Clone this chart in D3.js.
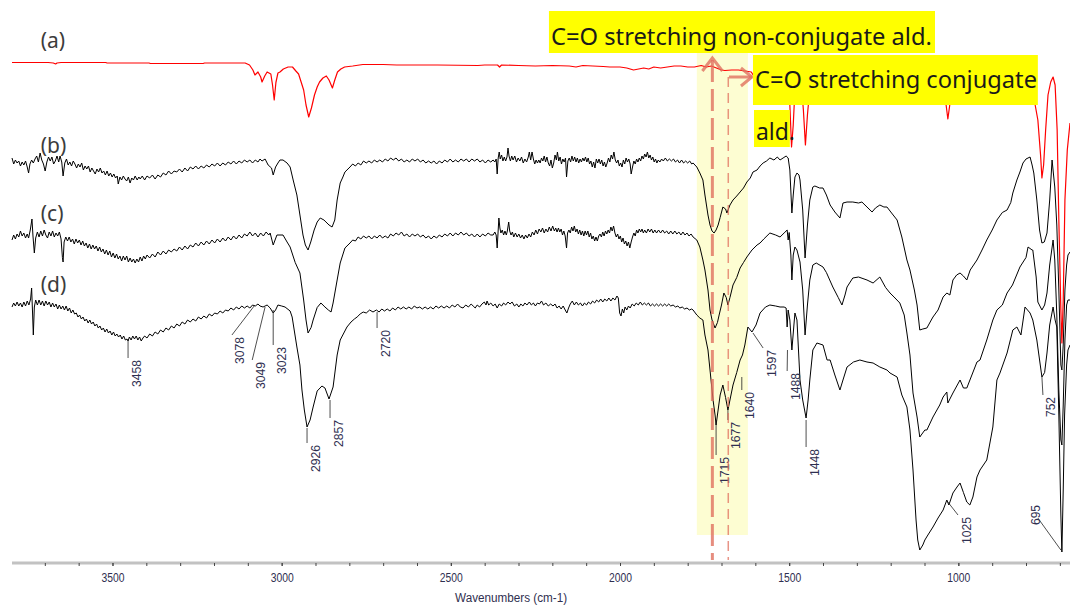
<!DOCTYPE html>
<html>
<head>
<meta charset="utf-8">
<script src="https://cdn.jsdelivr.net/npm/d3@7"></script>
<style>
  html, body { margin: 0; padding: 0; background: #fff; }
  svg { display: block; font-family: "Liberation Sans", Arial, sans-serif; }
</style>
</head>
<body>
<svg id="chart" width="1070" height="606"></svg>
<script>
// FTIR spectra, [wavenumber cm-1, transmittance (stacked, arbitrary units)]
var specA = [[3797,100.5],[3690,100.5],[3675,100.4],[3668,100.2],[3664,100.4],[3652,100.5],[3520,100.5],[3516,100.4],[3392,100.4],[3388,100.3],[3232,100.3],[3228,100.4],[3108,100.4],[3095,100],[3085,99],[3079,98],[3070,98.6],[3062,97.6],[3058,96.6],[3050,97.8],[3043,98.6],[3032,98.2],[3027,96],[3022,93],[3017,96.5],[3011,98.4],[3005,98.6],[2995,99.2],[2981,99.6],[2968,99.6],[2958,98.8],[2950,98.2],[2942,96.5],[2935,95],[2928,92],[2920,89.6],[2912,91.4],[2903,94],[2895,95.6],[2888,96.6],[2878,97.4],[2868,97.8],[2860,97],[2850,95.4],[2843,97],[2835,98.6],[2825,99.2],[2814,99.6],[2790,99.8],[2760,100.1],[2700,100.1],[2660,100],[2540,100],[2420,99.9],[2400,100],[2362,100],[2356,99.6],[2350,100],[2300,99.9],[2250,99.8],[2200,99.9],[2150,99.8],[2130,99.6],[2110,99.9],[2080,99.8],[2050,99.7],[2030,99.6],[2000,99.6],[1980,99.4],[1960,99],[1945,99.2],[1930,99.4],[1915,99.2],[1900,99.6],[1880,99.4],[1860,99.6],[1840,99.8],[1820,99.8],[1800,99.6],[1780,99.6],[1760,99.9],[1745,99.6],[1730,99.8],[1715,99.4],[1700,99],[1690,98.9],[1670,99],[1650,99],[1630,98.8],[1612,98.6],[1601,97.4],[1590,98.6],[1570,99],[1540,99],[1520,98.6],[1505,97],[1498,92],[1493,83.6],[1488,88],[1483,95],[1475,98.6],[1465,97],[1458,91],[1452,84],[1446,90],[1438,96],[1430,98.6],[1400,99],[1370,98.6],[1300,99],[1200,99],[1180,98.4],[1155,98.4],[1100,99],[1070,98.6],[1045,96],[1038,93],[1031,89.2],[1025,92.2],[1018,95],[1010,98],[960,99],[920,98.6],[880,97],[850,99],[800,98.8],[785,96],[774,92.4],[765,89],[757,82],[753,77.4],[748,80],[742,87],[735,94],[727,96.6],[720,97.6],[714,96],[708,87],[703,69],[697,51],[694,44.4],[690,53],[685,73],[678,83],[670,88.4]];

var specB = [[3797,81.4],[3792,80.2],[3787,81],[3782,80.4],[3777,80.8],[3772,79.8],[3767,80.6],[3762,80],[3757,80.8],[3752,79.6],[3748,78.4],[3744,80.2],[3739,81],[3734,80.4],[3729,81.2],[3724,81.8],[3719,80.6],[3714,82.4],[3709,81],[3704,80.2],[3699,78.8],[3694,80.6],[3689,81.6],[3684,80.8],[3679,81.6],[3674,80.2],[3669,80.8],[3664,81.8],[3659,80.6],[3655,81.8],[3650,80.6],[3646,77.8],[3641,80.4],[3636,81.2],[3631,80],[3626,80.6],[3621,79.8],[3616,80.8],[3611,80.2],[3606,79.4],[3601,80.2],[3596,79.6],[3591,80.4],[3586,79],[3581,79.8],[3576,79.2],[3571,79.8],[3566,78.6],[3561,79.4],[3556,78.8],[3551,78.2],[3546,79.2],[3541,78.6],[3536,79.4],[3531,78.4],[3526,78.8],[3521,78],[3516,78.8],[3511,77.8],[3506,78.4],[3501,77.6],[3496,78.2],[3491,77.4],[3486,77.8],[3483,76.2],[3478,77.6],[3473,77],[3468,77.8],[3463,77.2],[3458,76.8],[3453,77.6],[3448,76.4],[3443,77.4],[3438,77],[3433,77.8],[3427,77],[3422,77.6],[3418,77.2],[3412,77.8],[3405,77],[3398,77.8],[3390,77.4],[3382,78],[3374,77.2],[3366,78],[3358,77.6],[3350,78.4],[3342,78],[3334,78.8],[3326,78.2],[3318,78.8],[3310,78.6],[3302,79.2],[3294,78.6],[3286,79.4],[3278,78.8],[3270,79.6],[3262,79.2],[3254,79.8],[3246,79.2],[3238,79.8],[3230,79.4],[3222,80],[3214,79.6],[3206,80.2],[3198,79.8],[3190,80.4],[3182,79.8],[3174,80.4],[3166,80],[3158,80.6],[3150,80.2],[3142,80.8],[3134,80.2],[3126,80.8],[3118,80.4],[3110,81],[3102,80.6],[3094,81],[3086,80.4],[3078,81],[3070,80.6],[3064,81.2],[3058,80.8],[3049,81.2],[3040,80],[3030,79.4],[3025,78],[3018,79.6],[3011,80.4],[3005,81],[2996,81],[2984,80.4],[2975,79.6],[2966,77],[2955,74],[2946,70],[2937,66],[2930,64],[2922,63],[2914,64.6],[2904,67],[2895,68.6],[2886,69.4],[2875,69],[2869,68.6],[2860,68],[2851,67.6],[2843,69],[2836,73],[2827,76.4],[2819,77.6],[2813,78.6],[2798,79.6],[2790,80.2],[2782,79.8],[2774,80.4],[2766,80],[2758,80.8],[2750,80.4],[2742,80.8],[2734,80.4],[2726,81],[2718,80.6],[2710,81],[2702,80.6],[2694,81.2],[2686,80.8],[2678,81.4],[2670,81],[2662,81.4],[2654,80.8],[2646,81.2],[2638,80.6],[2630,81],[2622,80.6],[2614,81.2],[2606,80.8],[2598,81.2],[2590,80.6],[2582,81],[2574,80.4],[2566,80.8],[2558,80.4],[2550,80.8],[2542,80.2],[2534,80.8],[2526,80.4],[2518,81],[2510,80.6],[2502,81.2],[2494,80.6],[2486,81],[2478,80.6],[2470,81.2],[2462,80.8],[2454,81.2],[2446,80.6],[2438,81.2],[2430,80.8],[2422,81.2],[2414,80.6],[2406,81],[2398,80.4],[2390,81],[2382,80.6],[2375,81],[2370,80.6],[2366,81.2],[2363,78.2],[2360,81.4],[2357,82.6],[2354,81.2],[2350,82],[2346,80.8],[2342,81.6],[2338,80.8],[2334,81.6],[2331,83.4],[2328,81.8],[2324,80.8],[2320,81.8],[2316,81],[2311,81.8],[2306,80.6],[2301,81.4],[2296,80.8],[2291,81.6],[2286,80.4],[2281,81.2],[2276,80.6],[2271,81.6],[2268,82.6],[2264,81],[2260,82.6],[2256,81.2],[2252,80.2],[2248,81],[2244,80.4],[2240,81],[2236,80.4],[2232,81.4],[2228,80.8],[2224,81.8],[2220,80.6],[2216,81.6],[2212,80.4],[2208,79.8],[2204,81],[2200,79.4],[2196,80.4],[2192,82],[2188,81],[2185,82.6],[2181,80.8],[2177,81.6],[2173,80.2],[2169,81.2],[2165,80.6],[2161,81.4],[2158,77.6],[2154,80.8],[2150,81.4],[2146,80.6],[2142,81.8],[2138,80.8],[2134,81.6],[2130,80.6],[2126,81.4],[2122,80.4],[2118,81.2],[2114,80.6],[2110,81.4],[2106,80.8],[2102,81.6],[2098,80.6],[2094,81.4],[2090,80.2],[2086,80.8],[2082,79.6],[2078,80.6],[2074,79.4],[2070,81.2],[2066,80.4],[2062,81.2],[2058,80.2],[2054,81],[2050,79.8],[2046,80.6],[2042,79.6],[2038,80.4],[2034,81.4],[2030,80.6],[2026,82],[2022,81.2],[2018,82.6],[2014,81],[2010,80.4],[2006,81],[2002,79.8],[1998,80.4],[1994,79.6],[1990,81],[1986,80.2],[1982,81.4],[1978,80.6],[1974,81.2],[1970,80.2],[1967,78.2],[1963,79.6],[1959,80.8],[1955,80.2],[1951,81.2],[1947,80.6],[1943,81.4],[1939,80.8],[1935,81.8],[1931,81.2],[1927,82.2],[1923,81.6],[1919,82.6],[1915,81.4],[1911,82],[1907,81],[1903,81.6],[1899,80.6],[1895,81.2],[1891,80.4],[1887,81],[1882,80.6],[1877,81.2],[1872,80.8],[1866,81.4],[1860,80.8],[1854,81.2],[1848,80.8],[1842,81.2],[1836,80.6],[1830,81],[1824,80.4],[1818,81],[1812,80.4],[1806,80.8],[1800,80.4],[1794,80.8],[1788,80.2],[1784,80.4],[1773,79.6],[1764,78.4],[1755,77],[1749,74],[1740,70],[1734,68],[1728,66.8],[1722,66.4],[1716,67],[1710,68],[1704,69.5],[1696,71.6],[1688,71.2],[1684,70.4],[1675,72],[1666,73],[1655,73.8],[1645,74.6],[1635,75.4],[1625,76.6],[1615,77.4],[1607,78.6],[1595,79],[1586,79.8],[1577,80.4],[1567,80.8],[1557,81.4],[1545,81],[1535,81.6],[1527,81],[1518,81.4],[1509,81.8],[1503,81.4],[1498,79],[1492,70.4],[1488,74],[1483,77.6],[1477,78.4],[1471,78],[1468,77],[1460,71],[1453,61.4],[1446,68],[1439,73],[1430,75.6],[1424,75.8],[1410,75.4],[1400,75.4],[1390,74],[1379,72],[1365,70.6],[1350,69.4],[1341,72.4],[1329,72.6],[1312,72.6],[1295,72.4],[1285,72.6],[1270,71.6],[1255,70.6],[1245,71.4],[1232,72],[1220,71.6],[1211,71.6],[1195,70.2],[1181,69],[1167,65.6],[1152,61],[1143,59],[1130,55],[1122,52],[1114,47],[1105,47.2],[1093,47.4],[1080,49],[1075,49.6],[1060,51],[1045,53.6],[1034,54.4],[1025,54],[1016,57],[1005,58],[995,58.4],[985,57.8],[975,57],[965,59],[945,61],[930,63],[916,65],[900,67],[886,69],[870,70.5],[856,71],[845,72.5],[839,74.4],[827,77],[818,78.6],[809,80.4],[800,81.2],[788,81.6],[782,80],[777,78.4],[768,73],[760,67],[753,64.4],[746,64.6],[738,66.4],[730,73],[723,81],[718,77.6],[715,75.6],[709,68],[703,55],[697,40],[694,39],[690,44],[685,55],[680,60],[676,62],[670,62.6]];

var specC = [[3797,65],[3792,66],[3787,65.2],[3782,66.2],[3777,65.6],[3772,66.8],[3767,65.8],[3762,66.4],[3757,65.4],[3752,66.2],[3748,65.4],[3743,67],[3738,69.2],[3735,65.8],[3731,62.4],[3727,65.4],[3722,66.6],[3717,65.6],[3712,66.8],[3707,65.8],[3702,67],[3697,66],[3692,65.4],[3687,66.6],[3682,65.8],[3677,66.8],[3672,65.6],[3667,66.4],[3662,65.8],[3657,66.6],[3652,65.2],[3648,61.5],[3646,60.6],[3643,64.6],[3638,65.6],[3633,64.8],[3628,65.6],[3623,64.6],[3618,65.2],[3613,64.2],[3608,65.2],[3603,64.4],[3598,65],[3593,64],[3588,64.8],[3583,63.8],[3578,64.4],[3573,63.4],[3568,64.2],[3563,63.2],[3558,64],[3553,63.2],[3548,63.8],[3543,62.8],[3538,63.6],[3533,62.6],[3528,63.2],[3523,62.2],[3518,63],[3513,62],[3508,62.8],[3503,61.6],[3498,62.4],[3493,61.4],[3488,62.2],[3483,61.2],[3478,61.8],[3473,60.8],[3468,61.8],[3463,61],[3458,61.8],[3453,60.6],[3448,61.4],[3443,60.6],[3438,61.2],[3433,60.4],[3428,61.2],[3423,60.6],[3418,61.6],[3413,60.8],[3408,61.8],[3403,61.2],[3398,62],[3390,61.4],[3382,62.2],[3374,61.6],[3366,62.6],[3358,62],[3350,62.8],[3342,62.2],[3334,63],[3326,62.6],[3318,63.2],[3310,62.8],[3302,63.6],[3294,63],[3286,63.8],[3278,63.2],[3270,64],[3262,63.6],[3254,64.4],[3246,63.8],[3238,64.6],[3230,64],[3222,64.8],[3214,64.2],[3206,65],[3198,64.4],[3190,65.2],[3182,64.6],[3174,65.4],[3166,64.8],[3158,65.6],[3150,65],[3142,65.8],[3134,65.2],[3126,66],[3118,65.4],[3110,66.2],[3102,65.8],[3094,66.6],[3086,65.8],[3078,66.4],[3070,65.6],[3062,66.4],[3054,65.8],[3046,66.6],[3038,66],[3034,66.4],[3025,64],[3014,66],[2996,66],[2984,64.6],[2975,63.6],[2960,60.5],[2946,58.4],[2935,53],[2928,49],[2922,46.4],[2913,47.5],[2907,49],[2895,51.5],[2884,52.4],[2872,51.6],[2862,51],[2854,50.6],[2848,52.4],[2836,57],[2827,60.4],[2813,63.4],[2798,64.4],[2790,65],[2782,64.8],[2774,65.6],[2766,65.2],[2758,65.8],[2750,65.4],[2742,65.8],[2734,65.2],[2726,65.8],[2718,65.4],[2710,66],[2702,65.4],[2694,65.8],[2686,65.4],[2678,66.2],[2670,65.8],[2662,66.4],[2654,66],[2646,66.6],[2638,65.8],[2630,66.2],[2622,65.6],[2614,66.2],[2606,65.8],[2598,66.2],[2590,65.6],[2582,66],[2574,65.4],[2566,65.8],[2558,65.2],[2550,65.8],[2542,65.4],[2534,66],[2526,65.6],[2518,66.2],[2510,65.8],[2502,66.4],[2494,65.8],[2486,66.4],[2478,66],[2470,66.6],[2462,66],[2454,66.4],[2446,65.8],[2438,66.2],[2430,65.6],[2422,66.2],[2414,65.6],[2406,66.2],[2398,65.8],[2390,66.4],[2382,66],[2375,66],[2370,66.6],[2366,66],[2363,63.4],[2360,67],[2358,69.4],[2355,67.4],[2352,66.4],[2348,67],[2344,66],[2340,66.8],[2336,66],[2333,66.8],[2329,68.6],[2326,66.8],[2322,66],[2318,66.6],[2314,65.6],[2309,66.4],[2304,65.6],[2299,66.2],[2294,65.4],[2289,66],[2284,65.2],[2279,66],[2274,65.4],[2269,66.2],[2264,65.6],[2259,66.6],[2254,66],[2249,67],[2244,66.2],[2239,67.2],[2234,66.6],[2229,67.4],[2224,66.4],[2219,67.2],[2214,66.6],[2209,67.6],[2204,66.8],[2199,67.8],[2194,66.8],[2190,67.4],[2186,66.6],[2182,67.4],[2178,66.6],[2174,67.2],[2170,66],[2166,66.8],[2162,65.8],[2158,63.4],[2155,66.4],[2151,67],[2147,66.4],[2143,67.6],[2139,66.8],[2135,67.8],[2131,66.6],[2127,67.2],[2123,66.2],[2119,67],[2115,66],[2111,66.8],[2107,65.8],[2103,66.8],[2099,66],[2095,66.8],[2091,65.6],[2087,66.4],[2083,65.2],[2079,65.8],[2075,64.8],[2071,65.6],[2067,64.8],[2063,65.8],[2059,66.2],[2055,65.6],[2051,66.6],[2047,65.8],[2043,66.8],[2039,66.2],[2035,67],[2031,66.4],[2027,67.6],[2023,66.8],[2019,67.8],[2015,66.4],[2011,65.6],[2007,66.2],[2003,65.2],[1999,65.8],[1995,64.6],[1991,65.4],[1987,64.2],[1983,64.8],[1979,63.8],[1975,64.6],[1971,63.4],[1967,64.6],[1963,65.6],[1959,66.4],[1955,65.8],[1951,67],[1947,66.4],[1943,67.2],[1939,66.6],[1935,67.2],[1931,66.4],[1927,67],[1922,66.4],[1917,67.2],[1912,66.6],[1907,67.2],[1902,66.4],[1897,67],[1892,66.4],[1886,67],[1880,66.4],[1874,67],[1868,66.4],[1862,66.8],[1856,66.2],[1850,66.8],[1844,66.2],[1838,66.8],[1832,66.2],[1826,66.6],[1820,66],[1814,66.6],[1808,66],[1802,66.4],[1796,65.8],[1790,66.2],[1784,65.6],[1773,65],[1764,63.6],[1755,61],[1749,59],[1740,55],[1734,51],[1728,49],[1719,47.4],[1712,48.5],[1707,50],[1700,52],[1693,54.4],[1686,53.5],[1681,52],[1675,53.5],[1666,56],[1655,57.5],[1645,59.4],[1635,60.5],[1625,61.6],[1610,63],[1595,64],[1586,64.4],[1575,65.2],[1557,66.4],[1540,66],[1527,65.6],[1515,66.4],[1506,67],[1503,65],[1500,66.5],[1495,62],[1492,57],[1488,62],[1483,63.6],[1477,63],[1468,60.6],[1460,55],[1453,46],[1446,52],[1439,57],[1430,60],[1420,60.4],[1400,59.6],[1390,58.5],[1371,55.6],[1355,53.5],[1344,52],[1335,54],[1329,55.6],[1312,57.4],[1295,57.6],[1270,57],[1252,56.4],[1232,57.6],[1215,55.5],[1202,54.4],[1190,53.6],[1173,52.4],[1160,50],[1152,46.4],[1143,42],[1134,34.4],[1122,29.6],[1114,25.6],[1099,27],[1093,27],[1075,29.6],[1055,32],[1045,33.6],[1034,34.6],[1031,32.4],[1016,34.4],[995,37],[985,35.4],[975,35.4],[960,38],[945,40.6],[936,41],[916,45],[898,49],[886,51],[870,52],[856,54.4],[840,56],[818,59.6],[800,61.5],[794,63.6],[782,63],[780,63],[770,57.6],[765,52.6],[753,51],[745,52],[738,54.4],[730,60],[720,65],[715,61],[709,50],[703,35],[697,25],[694,24],[690,32],[685,45],[680,52],[676,53],[670,53]];

var specD = [[3797,51.6],[3792,52.4],[3787,51.8],[3782,52.6],[3777,51.8],[3772,52.4],[3767,51.6],[3762,52.6],[3757,51.8],[3752,52.8],[3747,52],[3742,53.2],[3739,55.4],[3736,50],[3734,46],[3731,51.6],[3727,53],[3722,52],[3717,53],[3712,52],[3707,52.8],[3702,51.8],[3697,52.8],[3692,52],[3687,52.6],[3682,51.6],[3677,52.4],[3672,51.6],[3667,52.2],[3662,51.2],[3657,52],[3652,51.2],[3647,51.8],[3642,51],[3637,51.8],[3632,50.8],[3627,51.4],[3622,50.4],[3617,51],[3612,50.2],[3607,50.4],[3602,49.6],[3597,50],[3592,49.2],[3587,49.6],[3582,48.8],[3577,49.2],[3572,48.4],[3567,49],[3562,48.2],[3557,48.6],[3552,47.8],[3547,48.2],[3542,47.4],[3537,47.8],[3532,47],[3527,47.4],[3522,46.6],[3517,47.2],[3512,46.4],[3507,46.8],[3502,46],[3497,46.6],[3492,45.8],[3487,46.2],[3482,45.6],[3477,46],[3472,45.2],[3467,45.8],[3462,45],[3457,45.2],[3454,44.8],[3450,45.6],[3445,45],[3440,45.8],[3435,45.2],[3430,45.8],[3425,45],[3420,45.6],[3415,44.8],[3410,45.4],[3405,45.8],[3398,45.4],[3390,46.2],[3382,45.8],[3374,46.6],[3366,46.2],[3358,47],[3350,46.6],[3342,47.4],[3334,47],[3326,47.8],[3318,47.4],[3310,48.2],[3302,47.8],[3294,48.6],[3286,48.2],[3278,49],[3270,48.6],[3262,49.2],[3254,48.8],[3246,49.6],[3238,49.2],[3230,49.8],[3222,49.4],[3214,50.2],[3206,49.8],[3198,50.4],[3190,50.2],[3182,50.8],[3174,50.4],[3166,51],[3158,50.8],[3150,51.4],[3142,51],[3134,51.6],[3126,51.2],[3118,51.8],[3110,51.4],[3102,51.8],[3094,51.4],[3086,52],[3078,51.8],[3070,52.2],[3064,51.8],[3055,51.6],[3049,51.8],[3043,52],[3034,51.4],[3025,50.4],[3018,51],[3011,52],[3000,51.8],[2990,51.6],[2975,50.8],[2969,49.6],[2955,43.6],[2946,40],[2940,35],[2933,31],[2925,27.6],[2916,29],[2907,31.6],[2895,34.8],[2881,35.8],[2872,35.4],[2860,33.2],[2848,35.6],[2836,42],[2827,45],[2807,47.6],[2795,48.6],[2785,49.2],[2777,49.6],[2768,50.2],[2759,50.6],[2750,50.4],[2740,51],[2730,50.6],[2720,51],[2712,50.6],[2704,51.2],[2696,50.8],[2688,51.2],[2680,50.8],[2672,51.4],[2664,51],[2656,51.6],[2648,51.2],[2640,51.6],[2632,51.2],[2624,51.6],[2616,51.2],[2608,51.8],[2600,51.4],[2592,51.6],[2584,51.2],[2576,51.6],[2568,51.2],[2560,51.6],[2552,51.2],[2544,51.8],[2536,51.4],[2528,51.8],[2520,51.4],[2512,51.8],[2504,51.4],[2496,52],[2488,51.6],[2480,52.2],[2472,51.6],[2464,51.4],[2456,52],[2448,51.6],[2440,52.2],[2434,51.8],[2428,51.4],[2422,52],[2415,51.6],[2408,52.2],[2401,52.6],[2396,52],[2393,52.8],[2388,52],[2382,52.4],[2375,51.8],[2369,52.2],[2363,51.4],[2357,52.2],[2350,51.8],[2344,52.4],[2338,52],[2331,52.6],[2325,52.2],[2319,52.6],[2312,51.8],[2305,52.2],[2299,51.6],[2293,52.2],[2287,51.8],[2281,52.4],[2275,52],[2268,52.6],[2262,52],[2256,52.4],[2250,51.8],[2244,52.4],[2238,52.2],[2232,52.8],[2226,52],[2219,52.4],[2212,51.8],[2205,52.2],[2198,51.8],[2192,52.2],[2186,51.4],[2180,51.8],[2174,51.2],[2168,51.8],[2162,51],[2157,50.4],[2152,51.4],[2147,52.2],[2141,52.8],[2135,52],[2129,52.6],[2123,52],[2117,52.4],[2111,51.8],[2105,52.4],[2099,52],[2093,52.6],[2087,52.2],[2081,52.8],[2075,52.4],[2069,53],[2063,52.6],[2057,53.2],[2051,52.6],[2045,53.2],[2039,52.8],[2033,53.4],[2027,52.8],[2021,53.4],[2015,53],[2009,53.8],[2005,53.4],[2001,50.4],[1997,49.8],[1993,51.2],[1989,50.4],[1985,51.6],[1980,51],[1975,51.8],[1970,51.4],[1964,52.2],[1958,51.8],[1952,52.4],[1946,52],[1940,52.6],[1934,52],[1928,52.4],[1922,52],[1916,52.4],[1910,51.8],[1904,52.2],[1898,51.8],[1892,52.2],[1886,51.8],[1880,52.2],[1874,51.8],[1868,52.2],[1862,51.8],[1856,52.2],[1850,51.8],[1843,52],[1836,51.6],[1829,51.8],[1823,51.4],[1816,51.6],[1809,51.2],[1802,51.4],[1795,51],[1788,51.2],[1784,51],[1773,50],[1764,49.4],[1755,49],[1749,46],[1740,43],[1734,39],[1725,33],[1719,30],[1716,28],[1710,31],[1704,34],[1696,36],[1688,33.5],[1681,31],[1675,33],[1666,36],[1655,38.5],[1645,41],[1638,42],[1631,44],[1622,47.6],[1610,46.6],[1598,48],[1586,50.4],[1570,51.6],[1557,52],[1540,51.8],[1527,51.6],[1515,51.6],[1509,51.4],[1506,47.6],[1503,51],[1498,49],[1492,43],[1486,48],[1483,50.4],[1477,49],[1468,37],[1460,33],[1450,29.4],[1444,33],[1439,37],[1430,43],[1418,44.4],[1400,44],[1388,41],[1379,41],[1365,38],[1350,35],[1341,37],[1329,39.6],[1310,40.6],[1291,41],[1270,40.6],[1252,40.4],[1232,39.6],[1211,39],[1202,38.4],[1181,37.6],[1167,34],[1152,31.6],[1143,27],[1134,19],[1125,9],[1120,5],[1114,3],[1105,4],[1099,5],[1090,6],[1075,7.6],[1060,9.4],[1045,11],[1034,13],[1028,12],[1016,14.4],[1004,15.6],[995,16.4],[985,14.5],[975,12.6],[966,12],[957,13.6],[945,17.6],[936,19],[916,21],[898,27.6],[886,37],[877,38.4],[856,42.4],[839,47],[827,47.6],[815,46],[803,51.6],[788,50.4],[780,49],[768,45],[753,37.6],[745,38.5],[738,42.4],[730,48],[720,51.6],[714,49],[709,47.6],[703,30],[697,10],[694,2.6],[690,15],[686,30],[680,40],[676,43],[670,44]];

var seriesNames = ["(a)", "(b)", "(c)", "(d)"];
var seriesColors = ["#ff0000", "#000000", "#000000", "#000000"];
var seriesLabelAt = [[3712, 103.4], [3712, 82.4], [3712, 68.8], [3712, 54.6]];

// peak label: text, peak wn, peak value, leader end wn, leader end value
var peakLabels = [
  ["3458", 3454, 45, 3454, 41.4],
  ["3078", 3079, 52, 3147, 46],
  ["3049", 3049, 51.6, 3087, 41],
  ["3023", 3025, 51, 3025, 44],
  ["2926", 2925, 27.4, 2925, 24.4],
  ["2857", 2857, 33, 2857, 29.4],
  ["2720", 2718, 50.6, 2718, 47.4],
  ["1715", 1716, 29, 1716, 22],
  ["1677", 1681, 31, 1681, 29],
  ["1640", 1640, 37.6, 1640, 35],
  ["1597", 1607, 46.4, 1577, 43.4],
  ["1488", 1505, 43, 1506, 38.8],
  ["1448", 1450, 29, 1450, 23.6],
  ["1025", 1031, 12.6, 1001, 10],
  ["752", 753, 37.6, 750, 34],
  ["695", 697, 3, 765, 9.4]
];

var majorTicks = [3500, 3000, 2500, 2000, 1500, 1000];
var minorTicks = d3.range(3700, 650, -100);

// highlighted C=O region and marker lines
var bandRange = [1773, 1622];
var nonConjLine = 1727;
var conjLine = 1680;

var notes = [
  {text: "C=O stretching non-conjugate ald.", w0: 2210, w1: 1069, v0: 110.8, v1: 102.4, base: 104, len: 381},
  {text: "C=O stretching conjugate", w0: 1607, w1: 765, v0: 102, v1: 92, base: 95.4, len: 282},
  {text: "ald.", w0: 1604, w1: 1498, v0: 91, v1: 83.6, base: 85, len: 39}
];

var svg = d3.select("#chart");
var x = d3.scaleLinear().domain([3797, 670]).range([12, 1070]);
var y = d3.scaleLinear().domain([0, 110]).range([565, 15]);

var line = d3.line()
    .x(function(d) { return x(d[0]); })
    .y(function(d) { return y(d[1]); });

// yellow band behind everything
svg.append("rect")
    .attr("x", x(bandRange[0]))
    .attr("y", y(102.4))
    .attr("width", x(bandRange[1]) - x(bandRange[0]))
    .attr("height", y(6) - y(102.4))
    .attr("fill", "#fdfdd2");

// spectra, black first then red on top
var specs = [specB, specC, specD, specA];
var cols = [seriesColors[1], seriesColors[2], seriesColors[3], seriesColors[0]];
svg.append("g").selectAll("path")
    .data(specs)
    .enter().append("path")
    .attr("d", line)
    .attr("fill", "none")
    .attr("stroke", function(d, i) { return cols[i]; })
    .attr("stroke-width", function(d, i) { return i == 3 ? 1.2 : 1; })
    .attr("stroke-linejoin", "round");

// series names
svg.append("g").selectAll("text")
    .data(seriesNames)
    .enter().append("text")
    .attr("x", function(d, i) { return x(seriesLabelAt[i][0]); })
    .attr("y", function(d, i) { return y(seriesLabelAt[i][1]); })
    .attr("font-family", "'Noto Sans', sans-serif")
    .attr("font-size", 21)
    .attr("fill", "#3c3c3c")
    .text(function(d) { return d; });

// peak labels
var pl = svg.append("g");
peakLabels.forEach(function(p) {
  var x1 = x(p[1]), y1 = y(p[2]), x2 = x(p[3]), y2 = y(p[4]);
  pl.append("line")
      .attr("x1", x1).attr("y1", y1).attr("x2", x2).attr("y2", y2)
      .attr("stroke", "#222").attr("stroke-width", 0.8);
  var tx = x2 + 8, ty = y2 + 2;
  if (p[0] == "695") { tx = x2 - 2; ty = y2 - 13; }
  pl.append("text")
      .attr("transform", "translate(" + tx + "," + ty + ") rotate(-90)")
      .attr("text-anchor", "end")
      .attr("dy", "0.36em")
      .attr("font-size", 12.5)
      .attr("fill", "#2f2f50")
      .attr("textLength", p[0].length == 3 ? 20 : 27)
      .attr("lengthAdjust", "spacingAndGlyphs")
      .text(p[0]);
});

// axis
var axisY = 563;
svg.append("line")
    .attr("x1", 12).attr("x2", 1070)
    .attr("y1", axisY).attr("y2", axisY)
    .attr("stroke", "#c2c2c2").attr("stroke-width", 3);

var minorAxis = svg.append("g")
    .attr("transform", "translate(0," + axisY + ")")
    .call(d3.axisBottom(x).tickValues(minorTicks).tickSize(3).tickFormat(""));
minorAxis.select(".domain").remove();
minorAxis.selectAll(".tick line").attr("stroke", "#444");

var majorAxis = svg.append("g")
    .attr("transform", "translate(0," + axisY + ")")
    .call(d3.axisBottom(x).tickValues(majorTicks).tickSize(3).tickPadding(7).tickFormat(d3.format("d")));
majorAxis.select(".domain").remove();
majorAxis.selectAll(".tick line").attr("stroke", "#444");
majorAxis.selectAll(".tick text")
    .attr("font-size", 12.5)
    .attr("font-family", "'Liberation Sans', Arial, sans-serif")
    .attr("fill", "#2f2f50")
    .attr("textLength", 23)
    .attr("lengthAdjust", "spacingAndGlyphs");

svg.append("text")
    .attr("x", x(2322))
    .attr("y", 602)
    .attr("text-anchor", "middle")
    .attr("font-size", 12)
    .attr("fill", "#2f2f50")
    .attr("textLength", 112)
    .attr("lengthAdjust", "spacingAndGlyphs")
    .text("Wavenumbers (cm-1)");

// dashed marker lines and arrows
var mark = "#e0705f";
svg.append("line")
    .attr("x1", x(nonConjLine)).attr("x2", x(nonConjLine))
    .attr("y1", y(101)).attr("y2", y(1))
    .attr("stroke", mark).attr("stroke-opacity", 0.8)
    .attr("stroke-width", 3).attr("stroke-dasharray", "22,7");
svg.append("line")
    .attr("x1", x(conjLine)).attr("x2", x(conjLine))
    .attr("y1", y(97.6)).attr("y2", y(1))
    .attr("stroke", mark).attr("stroke-opacity", 0.75)
    .attr("stroke-width", 1.5).attr("stroke-dasharray", "10,6");

var tipX = x(nonConjLine), tipY = y(101.4);
svg.append("path")
    .attr("d", "M" + (tipX - 10) + "," + (tipY + 13) + "L" + tipX + "," + tipY + "L" + (tipX + 10) + "," + (tipY + 13))
    .attr("fill", "none").attr("stroke", mark).attr("stroke-opacity", 0.8).attr("stroke-width", 3);

var ax0 = x(1678), ax1 = x(1610), ay = y(97.6);
svg.append("line")
    .attr("x1", ax0).attr("x2", ax1).attr("y1", ay).attr("y2", ay)
    .attr("stroke", mark).attr("stroke-opacity", 0.8).attr("stroke-width", 3);
svg.append("path")
    .attr("d", "M" + (ax1 - 11) + "," + (ay - 9) + "L" + ax1 + "," + ay + "L" + (ax1 - 11) + "," + (ay + 9))
    .attr("fill", "none").attr("stroke", mark).attr("stroke-opacity", 0.8).attr("stroke-width", 3);

// annotation boxes
var ng = svg.append("g");
notes.forEach(function(n) {
  ng.append("rect")
      .attr("x", x(n.w0)).attr("y", y(n.v0))
      .attr("width", x(n.w1) - x(n.w0))
      .attr("height", y(n.v1) - y(n.v0))
      .attr("fill", "#ffff00");
  ng.append("text")
      .attr("x", x(n.w0) + 2)
      .attr("y", y(n.base))
      .attr("font-family", "'Noto Sans', sans-serif")
      .attr("font-size", 24)
      .attr("fill", "#1a1a1a")
      .attr("textLength", n.len)
      .attr("lengthAdjust", "spacingAndGlyphs")
      .text(n.text);
});
</script>
</body>
</html>
